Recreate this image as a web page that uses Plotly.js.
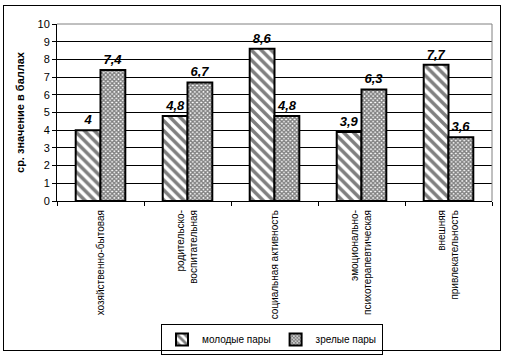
<!DOCTYPE html>
<html>
<head>
<meta charset="utf-8">
<script src="https://cdn.plot.ly/plotly-3.0.1.min.js"></script>
<style>
  html, body { margin: 0; padding: 0; background: #fff; }
  #wrap { position: relative; width: 506px; height: 356px; }
  #frame { position: absolute; left: 3px; top: 5px; width: 496px; height: 344px; border: 1px solid #000; pointer-events: none; }
  #chart { position: absolute; left: 0; top: 0; width: 506px; height: 356px; }
</style>
</head>
<body>
<div id="wrap">
  <div id="chart"></div>
  <div id="frame"></div>
</div>
<script>
// Data
const categories = [
  "хозяйственно-бытовая",
  "родительско-<br>воспитательная",
  "социальная активность",
  "эмоционально-<br>психотерапевтическая",
  "внешняя<br>привлекательность"
];
const youngCouples = [4, 4.8, 8.6, 3.9, 7.7];
const matureCouples = [7.4, 6.7, 4.8, 6.3, 3.6];
const seriesNames = ["молодые пары", "зрелые пары"];
const yTickValues = [0, 1, 2, 3, 4, 5, 6, 7, 8, 9, 10];
const yAxisTitle = "ср. значение в баллах";

const fmt = v => String(v).replace('.', ',');
const FONT = "Arial, 'Liberation Sans', sans-serif";

const labelFont = { family: FONT, size: 13, color: '#000', weight: 'bold', style: 'italic' };

const traces = [
  {
    type: 'bar',
    name: seriesNames[0],
    x: categories,
    y: youngCouples,
    text: youngCouples.map(fmt),
    textposition: 'outside',
    textfont: labelFont,
    cliponaxis: false,
    hoverinfo: 'skip',
    marker: {
      color: '#fff',
      line: { color: '#000', width: 2 },
      pattern: { shape: '\\', fgcolor: '#000', bgcolor: '#fff', size: 7, solidity: 0.5, fillmode: 'overlay' }
    }
  },
  {
    type: 'bar',
    name: seriesNames[1],
    x: categories,
    y: matureCouples,
    text: matureCouples.map(fmt),
    textposition: 'outside',
    textfont: labelFont,
    cliponaxis: false,
    hoverinfo: 'skip',
    marker: {
      color: '#fff',
      line: { color: '#000', width: 2 },
      pattern: { shape: 'x', fgcolor: '#000', bgcolor: '#fff', size: 3, solidity: 0.7, fillmode: 'overlay' }
    }
  }
];

const layout = {
  width: 506,
  height: 356,
  margin: { l: 57, r: 14, t: 24, b: 155, pad: 0 },
  paper_bgcolor: '#fff',
  plot_bgcolor: '#fff',
  font: { family: FONT, size: 10, color: '#000' },
  barmode: 'group',
  bargap: 0.43,
  bargroupgap: 0,
  showlegend: true,
  legend: {
    orientation: 'h',
    xref: 'container', yref: 'container',
    x: 272 / 506, xanchor: 'center',
    y: 1 - 324 / 356, yanchor: 'top',
    bordercolor: '#000', borderwidth: 1,
    bgcolor: 'rgba(255,255,255,0)',
    font: { family: FONT, size: 10, color: '#000' },
    itemwidth: 30,
    tracegroupgap: 0
  },
  xaxis: {
    type: 'category',
    tickangle: -90,
    tickson: 'boundaries',
    ticks: 'outside',
    ticklen: 4,
    tickcolor: '#000',
    ticklabelstandoff: 4,
    showline: true,
    linecolor: '#000',
    linewidth: 1,
    showgrid: false,
    zeroline: false,
    tickfont: { family: FONT, size: 10, color: '#000' },
    automargin: false
  },
  yaxis: {
    range: [0, 10],
    tickvals: yTickValues,
    ticktext: yTickValues.map(String),
    ticks: 'outside',
    ticklen: 4,
    tickcolor: '#000',
    showline: true,
    linecolor: '#000',
    linewidth: 1,
    showgrid: true,
    gridcolor: '#000',
    gridwidth: 1,
    zeroline: false,
    tickfont: { family: FONT, size: 11, color: '#000' },
    title: { text: yAxisTitle, font: { family: FONT, size: 11, color: '#000', weight: 'bold' }, standoff: 10 },
    automargin: false
  },
  shapes: [
    { type: 'line', xref: 'paper', yref: 'paper', x0: 0, x1: 1, y0: 1, y1: 1, line: { color: '#808080', width: 1 }, layer: 'above' },
    { type: 'line', xref: 'paper', yref: 'paper', x0: 1, x1: 1, y0: 0, y1: 1, line: { color: '#808080', width: 1 }, layer: 'above' }
  ]
};

Plotly.newPlot('chart', traces, layout, { staticPlot: true, displayModeBar: false });
</script>
</body>
</html>
